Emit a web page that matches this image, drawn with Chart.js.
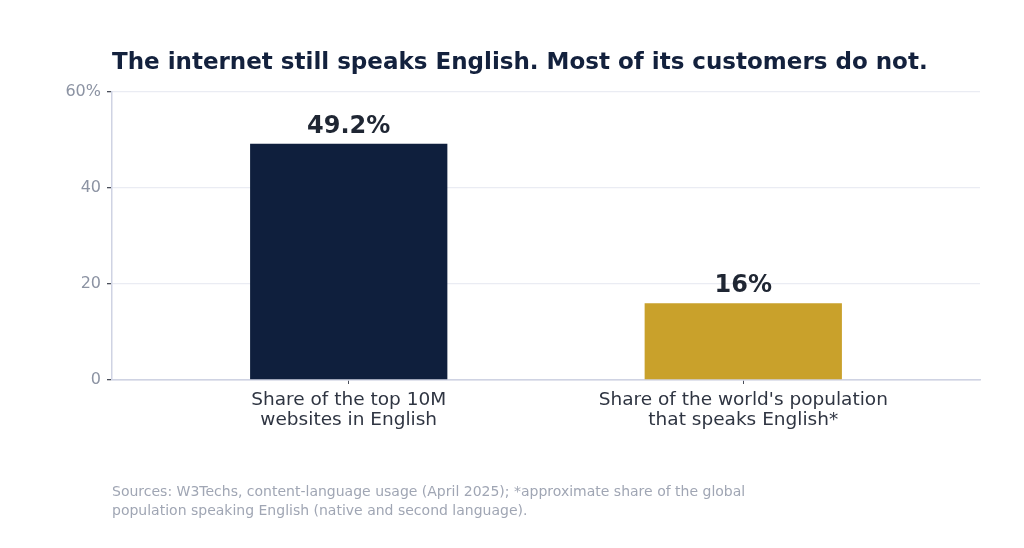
<!DOCTYPE html>
<html>
<head>
<meta charset="utf-8">
<script src="https://cdn.jsdelivr.net/npm/chart.js@4.4.1/dist/chart.umd.min.js"></script>
<style>
  html, body { margin: 0; padding: 0; background: #ffffff; }
  #wrap { position: relative; width: 1024px; height: 548px; overflow: hidden; }
  #chart { position: absolute; left: 0; top: 0; }
  #title { position: absolute; left: 112px; top: 48px; margin: 0; white-space: nowrap;
           font-family: "DejaVu Sans", sans-serif; font-weight: bold; font-size: 23px; color: #13213d; }
  #note { position: absolute; left: 112px; top: 482px; margin: 0; white-space: nowrap;
          font-family: "DejaVu Sans", sans-serif; font-size: 14px; line-height: 19px; color: #a0a6b4; }
</style>
</head>
<body>
<div id="wrap">
  <canvas id="chart" width="1024" height="548"></canvas>
  <div id="title">The internet still speaks English. Most of its customers do not.</div>
  <div id="note">Sources: W3Techs, content-language usage (April 2025); *approximate share of the global<br>population speaking English (native and second language).</div>
</div>
<script>
// ---- data ----
const categories = [
  ['Share of the top 10M', 'websites in English'],
  ["Share of the world's population", 'that speaks English*']
];
const values = [49.2, 16];
const valueLabels = ['49.2%', '16%'];
const barColors = ['#0f1f3d', '#c9a12b'];
const yTicks = [0, 20, 40, 60];
const yTickLabels = ['0', '20', '40', '60%'];

const FONT = '"DejaVu Sans", sans-serif';

const valueLabelPlugin = {
  id: 'valueLabels',
  afterDatasetsDraw(chart) {
    const ctx = chart.ctx;
    const meta = chart.getDatasetMeta(0);
    ctx.save();
    ctx.font = 'bold 24px ' + FONT;
    ctx.fillStyle = '#1f2633';
    ctx.textAlign = 'center';
    ctx.textBaseline = 'alphabetic';
    meta.data.forEach((bar, i) => {
      ctx.fillText(valueLabels[i], bar.x, bar.y - 11);
    });
    ctx.restore();
  }
};

new Chart(document.getElementById('chart'), {
  type: 'bar',
  data: {
    datasets: [{
      data: values.map((v, i) => ({ x: i, y: v })),
      backgroundColor: barColors,
      borderWidth: 0,
      barPercentage: 0.5,
      categoryPercentage: 1.0
    }]
  },
  options: {
    responsive: false,
    animation: false,
    layout: { padding: { top: 92, right: 44, bottom: 0, left: 0 } },
    plugins: { legend: { display: false }, tooltip: { enabled: false }, title: { display: false } },
    scales: {
      x: {
        type: 'linear',
        offset: false,
        min: -0.6,
        max: 1.6,
        afterBuildTicks(scale) { scale.ticks = categories.map((c, i) => ({ value: i })); },
        afterFit(scale) { scale.height = 168; },
        grid: { display: true, offset: false, drawOnChartArea: false, drawTicks: true, tickLength: 4, tickColor: '#4a4f5a' },
        border: { display: true, color: '#cfd3e3', width: 1.5 },
        ticks: {
          autoSkip: false,
          maxRotation: 0,
          padding: 6,
          color: '#2f3542',
          font: { family: FONT, size: 18.5, lineHeight: 1.1 },
          callback: (v) => categories[Math.round(v)] || ''
        }
      },
      y: {
        min: 0,
        max: 60,
        afterBuildTicks(scale) { scale.ticks = yTicks.map(v => ({ value: v })); },
        afterFit(scale) { scale.width = 112; },
        grid: {
          color: (c) => (c.tick && c.tick.value === 0) ? '#cfd3e3' : '#eaecf3',
          lineWidth: 1.3,
          drawTicks: true,
          tickLength: 5,
          tickColor: '#4a4f5a'
        },
        border: { display: true, color: '#cfd3e3', width: 1.5 },
        ticks: {
          padding: 6,
          color: '#8c93a3',
          font: { family: FONT, size: 16 },
          callback: (v) => yTickLabels[yTicks.indexOf(v)]
        }
      }
    }
  },
  plugins: [valueLabelPlugin]
});
</script>
</body>
</html>
